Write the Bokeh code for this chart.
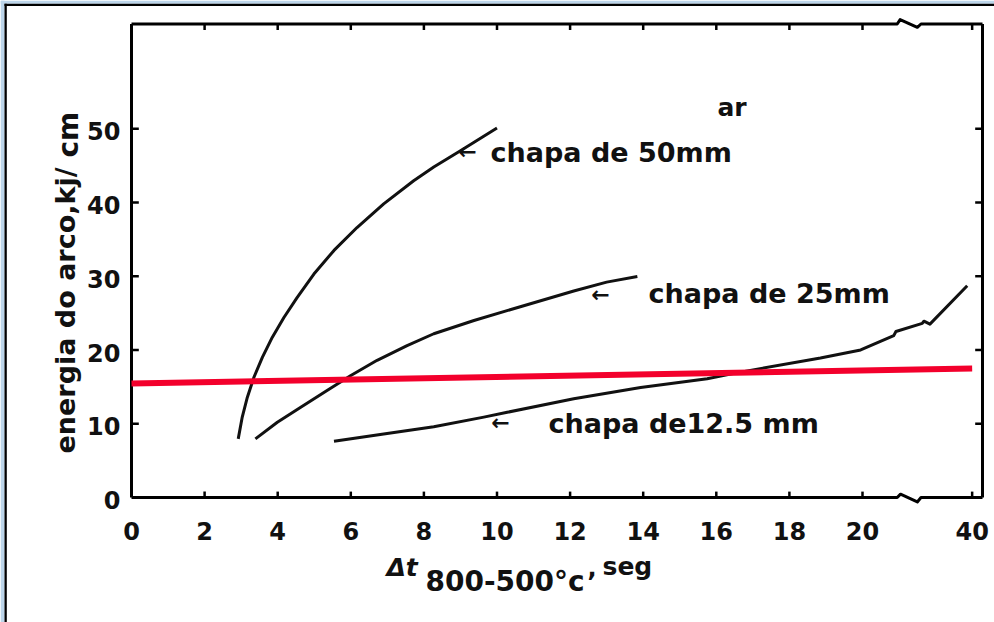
from bokeh.plotting import figure
from bokeh.models import Range1d, Label, BoxAnnotation, ColumnDataSource
from bokeh.embed import file_html
from bokeh.resources import INLINE
from bokeh.core.properties import value

# ---------------- data ----------------
x_ticks = [0, 2, 4, 6, 8, 10, 12, 14, 16, 18, 20, 40]
y_ticks = [0, 10, 20, 30, 40, 50]

# chapa de 50mm
c50_x = [2.92, 3.03, 3.17, 3.35, 3.58, 3.85, 4.17, 4.53, 4.99, 5.54, 6.17, 6.90, 7.72, 8.27, 9.0, 10.0]
c50_y = [7.95, 10.9, 13.6, 16.3, 19.0, 21.7, 24.4, 27.1, 30.3, 33.5, 36.6, 39.8, 42.95, 44.8, 47.0, 50.1]
# chapa de 25mm
c25_x = [3.39, 3.99, 4.62, 5.35, 5.99, 6.72, 7.54, 8.27, 9.37, 10.73, 12.1, 13.0, 13.84]
c25_y = [7.95, 10.2, 12.2, 14.5, 16.5, 18.6, 20.6, 22.2, 24.0, 26.0, 28.0, 29.2, 29.95]
# chapa de 12.5mm
c12_x = [5.54, 6.9, 8.27, 9.64, 10.28, 12.1, 13.93, 15.75, 16.66, 18.85, 19.95, 25.7, 26.1, 30.9, 31.2, 32.3, 39.1]
c12_y = [7.63, 8.6, 9.6, 10.9, 11.55, 13.4, 14.9, 16.1, 17.0, 18.9, 20.0, 21.95, 22.5, 23.6, 23.9, 23.5, 28.7]
# red line
red_x = [0, 40]
red_y = [15.45, 17.5]

# broken x axis: 0..20 linear, 20..40 compressed into 3 units
X_BREAK = 20
def xp(v):
    return v if v <= X_BREAK else X_BREAK + (v - X_BREAK) * 0.15

# page geometry (pixels of the 994x622 page) -> data units
W, H = 994, 622
X0, KX = 131.0, 36.55     # px of x=0, px per unit
Y0, KY = 497.0, 7.376     # px of y=0, px per unit
def dx(px):
    return (px - X0) / KX
def dy(py):
    return (Y0 - py) / KY

XR = dx(982)      # right frame line
YT = dy(23.5)     # top frame line

p = figure(width=W, height=H, output_backend="svg", toolbar_location=None,
           x_range=Range1d(dx(0), dx(W)), y_range=Range1d(dy(H), dy(0)),
           min_border=0)
p.outline_line_color = None
p.grid.visible = False
p.axis.visible = False
p.background_fill_color = "white"
p.border_fill_color = "white"

INK = "#111111"

# ---------------- frame with break marks ----------------
fw = 3
p.line([0, 0], [0, YT], line_color="black", line_width=fw)
p.line([XR, XR], [0, YT], line_color="black", line_width=fw)
p.line([0, 20.95, 21.04, 21.5, 21.6, XR], [0, 0, 0.45, -0.6, 0, 0],
       line_color="black", line_width=fw, line_join="round")
p.line([0, 20.95, 21.03, 21.5, 21.6, XR], [YT, YT, YT + 0.6, YT - 0.45, YT, YT],
       line_color="black", line_width=fw, line_join="round")

# inward ticks (drawn from the tick lists through the data scales)
xt = [xp(t) for t in x_ticks]
bx = [v for v in xt if v != 0]
p.segment(x0=bx, y0=[0] * len(bx), x1=bx, y1=[0.8] * len(bx), line_color="black", line_width=2.5)
p.segment(x0=bx, y0=[YT] * len(bx), x1=bx, y1=[YT - 0.8] * len(bx), line_color="black", line_width=2.5)
ly = [v for v in y_ticks if v != 0]
p.segment(x0=[0] * len(ly), y0=ly, x1=[0.2] * len(ly), y1=ly, line_color="black", line_width=2.5)
p.segment(x0=[XR] * len(ly), y0=ly, x1=[XR - 0.2] * len(ly), y1=ly, line_color="black", line_width=2.5)

# tick labels
xsrc = ColumnDataSource(dict(x=xt, y=[dy(530)] * len(xt), t=[str(t) for t in x_ticks]))
p.text(x="x", y="y", text="t", source=xsrc, text_font=value("DejaVu Sans"), text_font_style="bold",
       text_font_size="24px", text_color=INK, text_align="center", text_baseline="alphabetic")
ysrc = ColumnDataSource(dict(x=[dx(120)] * len(y_ticks), y=[v - 0.35 for v in y_ticks],
                             t=[str(t) for t in y_ticks]))
p.text(x="x", y="y", text="t", source=ysrc, text_font=value("DejaVu Sans"), text_font_style="bold",
       text_font_size="24px", text_color=INK, text_align="right", text_baseline="middle")

# ---------------- curves ----------------
for xs, ys in ((c50_x, c50_y), (c25_x, c25_y), (c12_x, c12_y)):
    p.line([xp(v) for v in xs], ys, line_color=INK, line_width=3, line_join="round")

p.line([xp(v) for v in red_x], red_y, line_color="#f3002c", line_width=6)

# ---------------- labels ----------------
def add_label(x, y, text, size, style="bold", font="DejaVu Sans", angle=0, align="left",
              baseline="alphabetic"):
    p.add_layout(Label(x=x, y=y, text=text, text_font=font, text_font_size=size,
                       text_font_style=style, text_color=INK, angle=angle,
                       text_align=align, text_baseline=baseline))

add_label(dx(490), dy(152), "chapa de 50mm", "27px")
add_label(dx(648), dy(293), "chapa de 25mm", "27px")
add_label(dx(548), dy(423), "chapa de12.5 mm", "27px")
add_label(dx(717), dy(107), "ar", "25px")
for axp, ayp in ((467, 151), (600, 294), (500, 422)):
    add_label(dx(axp), dy(ayp), "\u2190", "22px", style="bold", align="center", baseline="middle")

# axis titles
add_label(dx(65), dy(453), "energia do arco,kj/", "27px", style="bold", angle=1.5707963)
add_label(dx(68), dy(157), "cm", "28px", style="bold", angle=1.5707963)
add_label(dx(386), dy(567), "\u0394t", "25px", style="bold italic")
add_label(dx(425), dy(581), "800-500\u00b0c", "28px", style="bold")
add_label(dx(587), dy(566), ",", "24px", style="bold")
add_label(dx(602), dy(566), "seg", "25px", style="bold")

# outer page border of the scan (left and top only)
p.add_layout(BoxAnnotation(right=dx(4), fill_color="#bcd5ea", fill_alpha=1, line_color=None))
p.add_layout(BoxAnnotation(bottom=dy(3.3), fill_color="#bcd5ea", fill_alpha=1, line_color=None))
p.add_layout(BoxAnnotation(left=dx(4), right=dx(6.3), top=dy(3.3), fill_color="black",
                           fill_alpha=1, line_color=None))
p.add_layout(BoxAnnotation(left=dx(4), bottom=dy(5.6), top=dy(3.3), fill_color="black",
                           fill_alpha=1, line_color=None))

open("out.html", "w").write(file_html(p, INLINE))
